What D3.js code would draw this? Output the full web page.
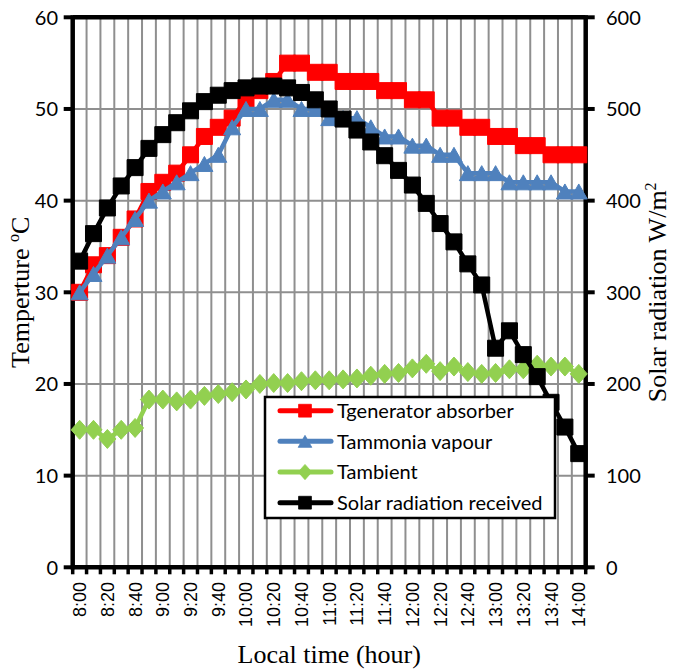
<!DOCTYPE html>
<html>
<head>
<meta charset="utf-8">
<script src="https://cdn.jsdelivr.net/npm/d3@7"></script>
<style>
  body { margin: 0; background: #fff; }
</style>
</head>
<body>
<div id="chart"></div>
<script>
// categories: local time every 10 minutes
const times = ["8:00","8:10","8:20","8:30","8:40","8:50","9:00","9:10","9:20","9:30","9:40","9:50",
  "10:00","10:10","10:20","10:30","10:40","10:50","11:00","11:10","11:20","11:30","11:40","11:50",
  "12:00","12:10","12:20","12:30","12:40","12:50","13:00","13:10","13:20","13:30","13:40","13:50","14:00"]

// temperatures (deg C)
const tGenerator = [30,33,34,36,38,41,42,43,45,47,48,49,51,52,53,55,55,54,54,53,53,53,52,52,
  51,51,49,49,48,48,47,47,46,46,45,45,45]
const tAmmonia = [30,32,34,36,38,40,41,42,43,44,45,48,50,50,51,51,50,50,49,49,49,48,47,47,
  46,46,45,45,43,43,43,42,42,42,42,41,41]
const tAmbient = [15,15,14,15,15.2,18.3,18.3,18.1,18.3,18.7,18.9,19.1,19.4,20,20.1,20.1,20.3,20.4,20.4,20.5,
  20.6,20.9,21.1,21.2,21.7,22.2,21.4,21.9,21.3,21.1,21.2,21.6,21.6,22.1,21.9,21.9,21.1]

// solar radiation (W/m2), secondary axis
const solar = [334,364,392,416,436,457,472,485,498,508,515,520,523,525,525,523,518,510,500,489,
  477,464,449,433,417,397,375,355,331,308,239,258,232,208,180,153,124]

const tempTicks = [0,10,20,30,40,50,60]
const solarTicks = [0,100,200,300,400,500,600]

const seriesNames = ["Tgenerator absorber","Tammonia vapour","Tambient","Solar radiation received"]

const width = 673
const height = 669
const pLeft = 72.7, pRight = 585.7, pTop = 17.3, pBottom = 567.3

const svg = d3.select("#chart").append("svg")
  .attr("width", width)
  .attr("height", height)

const x = d3.scaleBand().domain(times).range([pLeft, pRight])
const xc = d => x(d) + x.bandwidth() / 2
const yT = d3.scaleLinear().domain([0, 60]).range([pBottom, pTop])
const yS = d3.scaleLinear().domain([0, 600]).range([pBottom, pTop])

const gridColor = "#8f8f8f"

// vertical grid lines between categories
svg.append("g").selectAll("line")
  .data(times.slice(1))
  .enter().append("line")
  .attr("x1", d => x(d)).attr("x2", d => x(d))
  .attr("y1", pTop).attr("y2", pBottom)
  .attr("stroke", gridColor).attr("stroke-width", 2)

// horizontal grid lines
svg.append("g").selectAll("line")
  .data(tempTicks.slice(1, -1))
  .enter().append("line")
  .attr("x1", pLeft).attr("x2", pRight)
  .attr("y1", d => yT(d)).attr("y2", d => yT(d))
  .attr("stroke", gridColor).attr("stroke-width", 2)

// axes frame
const axisW = 4.5
svg.append("line").attr("x1", pLeft).attr("x2", pRight).attr("y1", pTop).attr("y2", pTop)
  .attr("stroke", "#000").attr("stroke-width", axisW)
svg.append("line").attr("x1", pLeft - 2).attr("x2", pRight + 2).attr("y1", pBottom).attr("y2", pBottom)
  .attr("stroke", "#000").attr("stroke-width", axisW)
svg.append("line").attr("x1", pLeft).attr("x2", pLeft).attr("y1", pTop - 2).attr("y2", pBottom + 2)
  .attr("stroke", "#000").attr("stroke-width", axisW)
svg.append("line").attr("x1", pRight).attr("x2", pRight).attr("y1", pTop - 2).attr("y2", pBottom + 2)
  .attr("stroke", "#000").attr("stroke-width", axisW)

// tick marks
svg.append("g").selectAll("line")
  .data(tempTicks)
  .enter().append("line")
  .attr("x1", pLeft - 9).attr("x2", pLeft)
  .attr("y1", d => yT(d)).attr("y2", d => yT(d))
  .attr("stroke", "#000").attr("stroke-width", 4)
svg.append("g").selectAll("line")
  .data(solarTicks)
  .enter().append("line")
  .attr("x1", pRight).attr("x2", pRight + 9)
  .attr("y1", d => yS(d)).attr("y2", d => yS(d))
  .attr("stroke", "#000").attr("stroke-width", 4)
svg.append("g").selectAll("line")
  .data(d3.range(times.length + 1))
  .enter().append("line")
  .attr("x1", i => pLeft + i * x.bandwidth()).attr("x2", i => pLeft + i * x.bandwidth())
  .attr("y1", pBottom).attr("y2", pBottom + 7)
  .attr("stroke", "#000").attr("stroke-width", 3.5)

// tick labels
const numFont = "Lato, 'Open Sans', sans-serif"
svg.append("g").selectAll("text")
  .data(tempTicks)
  .enter().append("text")
  .attr("x", 58).attr("y", d => yT(d)).attr("dy", "0.36em")
  .attr("text-anchor", "end")
  .style("font-family", numFont).style("font-size", "20px")
  .text(d => d)
svg.append("g").selectAll("text")
  .data(solarTicks)
  .enter().append("text")
  .attr("x", 606).attr("y", d => yS(d)).attr("dy", "0.36em")
  .attr("text-anchor", "start")
  .style("font-family", numFont).style("font-size", "20px")
  .text(d => d)
svg.append("g").selectAll("text")
  .data(times.filter((d, i) => i % 2 === 0))
  .enter().append("text")
  .attr("transform", d => `translate(${xc(d)},582) rotate(-90)`)
  .attr("dy", "0.36em")
  .attr("text-anchor", "end")
  .style("font-family", "'Liberation Sans', Arial, sans-serif").style("font-size", "18px")
  .text(d => d)

// axis titles
const serif = "'Liberation Serif', 'Times New Roman', serif"
const tl = svg.append("text")
  .attr("transform", `translate(29,${(pTop + pBottom) / 2}) rotate(-90)`)
  .attr("text-anchor", "middle")
  .style("font-family", serif).style("font-size", "26px")
tl.append("tspan").text("Temperture ")
tl.append("tspan").attr("dy", -10).style("font-size", "16px").text("o")
tl.append("tspan").attr("dy", 10).text("C")

const tr = svg.append("text")
  .attr("transform", `translate(666,${(pTop + pBottom) / 2}) rotate(-90)`)
  .attr("text-anchor", "middle")
  .style("font-family", serif).style("font-size", "26px")
tr.append("tspan").text("Solar radiation W/m")
tr.append("tspan").attr("dy", -10).style("font-size", "16px").text("2")

svg.append("text")
  .attr("x", (pLeft + pRight) / 2).attr("y", 663)
  .attr("text-anchor", "middle")
  .style("font-family", serif).style("font-size", "26px")
  .text("Local time (hour)")

// markers
const square = s => `M${-s/2},${-s/2}h${s}v${s}h${-s}Z`
const triangle = (w, h) => `M0,${-h/2}L${w/2},${h/2}L${-w/2},${h/2}Z`
const diamond = (w, h) => `M0,${-h/2}L${w/2},0L0,${h/2}L${-w/2},0Z`

const series = [
  {name: seriesNames[0], values: tGenerator, y: yT, color: "#ff0000", marker: square(16)},
  {name: seriesNames[1], values: tAmmonia, y: yT, color: "#4f81bd", marker: triangle(17, 15)},
  {name: seriesNames[2], values: tAmbient, y: yT, color: "#92d050", marker: diamond(17, 19)},
  {name: seriesNames[3], values: solar, y: yS, color: "#000000", marker: square(16)}
]

series.forEach(s => {
  const line = d3.line()
    .x((d, i) => xc(times[i]))
    .y(d => s.y(d))
  svg.append("path")
    .datum(s.values)
    .attr("d", line)
    .attr("fill", "none")
    .attr("stroke", s.color)
    .attr("stroke-width", 4.5)
    .attr("stroke-linejoin", "round")
  svg.append("g").selectAll("path")
    .data(s.values)
    .enter().append("path")
    .attr("transform", (d, i) => `translate(${xc(times[i])},${s.y(d)})`)
    .attr("d", s.marker)
    .attr("fill", s.color)
    .attr("stroke", s.color)
    .attr("stroke-width", 1)
})

// legend
const lg = svg.append("g")
lg.append("rect")
  .attr("x", 265).attr("y", 397).attr("width", 290).attr("height", 121)
  .attr("fill", "#fff").attr("stroke", "#000").attr("stroke-width", 2.5)
const rowY = d3.scalePoint().domain(seriesNames).range([410.7, 502.7])
series.forEach(s => {
  const yy = rowY(s.name)
  lg.append("line")
    .attr("x1", 280).attr("x2", 331).attr("y1", yy).attr("y2", yy)
    .attr("stroke", s.color).attr("stroke-width", 5).attr("stroke-linecap", "round")
  lg.append("path")
    .attr("d", s.marker)
    .attr("fill", s.color).attr("stroke", s.color)
    .attr("transform", `translate(305,${yy}) scale(0.8)`)
  lg.append("text")
    .attr("x", 337).attr("y", yy).attr("dy", "0.36em")
    .style("font-family", numFont).style("font-size", "20px")
    .text(s.name)
})
</script>
</body>
</html>
